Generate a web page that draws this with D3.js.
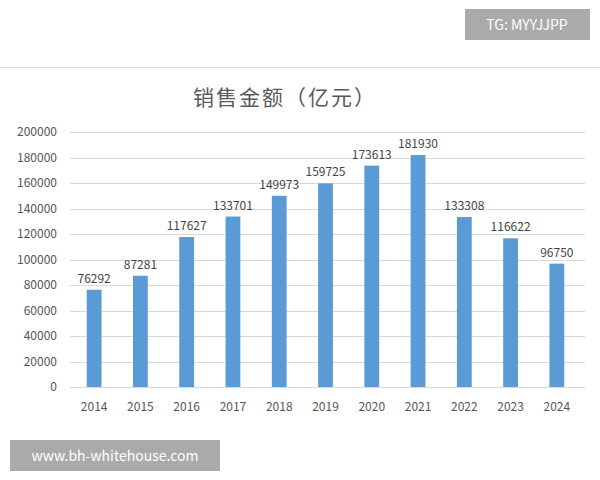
<!DOCTYPE html><html><head><meta charset="utf-8"><script src="https://cdn.jsdelivr.net/npm/d3@7"></script>
<style>body{margin:0;background:#fff}text{font-family:"Noto Sans CJK SC","DejaVu Sans",sans-serif}</style></head><body>
<svg id="c" width="600" height="480"></svg>
<script>
const years=["2014","2015","2016","2017","2018","2019","2020","2021","2022","2023","2024"];
const sales=[76292,87281,117627,133701,149973,159725,173613,181930,133308,116622,96750];
const yTicks=[0,20000,40000,60000,80000,100000,120000,140000,160000,180000,200000];
const title="销售金额（亿元）";
const svg=d3.select("#c");
svg.append("line").attr("x1",0).attr("x2",600).attr("y1",67.5).attr("y2",67.5).attr("stroke","#ddd");
const x=d3.scaleBand().domain(years).range([71,580]).paddingInner(0.68).paddingOuter(0.34);
const y=d3.scaleLinear().domain([0,200000]).range([387,132]);
const g=svg.append("g");
g.selectAll(".grid").data(yTicks).join("line").attr("x1",70).attr("x2",585)
 .attr("y1",d=>Math.round(y(d))+0.5).attr("y2",d=>Math.round(y(d))+0.5).attr("stroke","#d9d9d9");
g.selectAll(".yl").data(yTicks).join("text").attr("x",57).attr("y",d=>y(d)+4).attr("text-anchor","end")
 .attr("font-size",12).attr("fill","#555").text(d=>d);
g.selectAll(".bar").data(sales).join("rect").attr("x",(d,i)=>x(years[i])).attr("width",x.bandwidth())
 .attr("y",d=>y(d)).attr("height",d=>y(0)-y(d)).attr("fill","#5b9bd5");
g.selectAll(".vl").data(sales).join("text").attr("x",(d,i)=>x(years[i])+x.bandwidth()/2).attr("y",d=>y(d)-7)
 .attr("text-anchor","middle").attr("font-size",12).attr("fill","#444").text(d=>d);
g.selectAll(".xl").data(years).join("text").attr("x",d=>x(d)+x.bandwidth()/2).attr("y",411)
 .attr("text-anchor","middle").attr("font-size",12).attr("fill","#555").text(d=>d);
svg.append("text").attr("x",285).attr("y",105).attr("text-anchor","middle").attr("font-size",21).attr("fill","#595959").attr("letter-spacing",2).text(title);
svg.append("rect").attr("x",465).attr("y",9).attr("width",125).attr("height",31).attr("fill","#aaa");
svg.append("text").attr("x",527).attr("y",30).attr("text-anchor","middle").attr("font-size",14).attr("fill","#fff").text("TG: MYYJJPP");
svg.append("rect").attr("x",10).attr("y",440).attr("width",210).attr("height",31).attr("fill","#aaa");
svg.append("text").attr("x",115).attr("y",461).attr("text-anchor","middle").attr("font-size",14).attr("fill","#fff").text("www.bh-whitehouse.com");
</script></body></html>
